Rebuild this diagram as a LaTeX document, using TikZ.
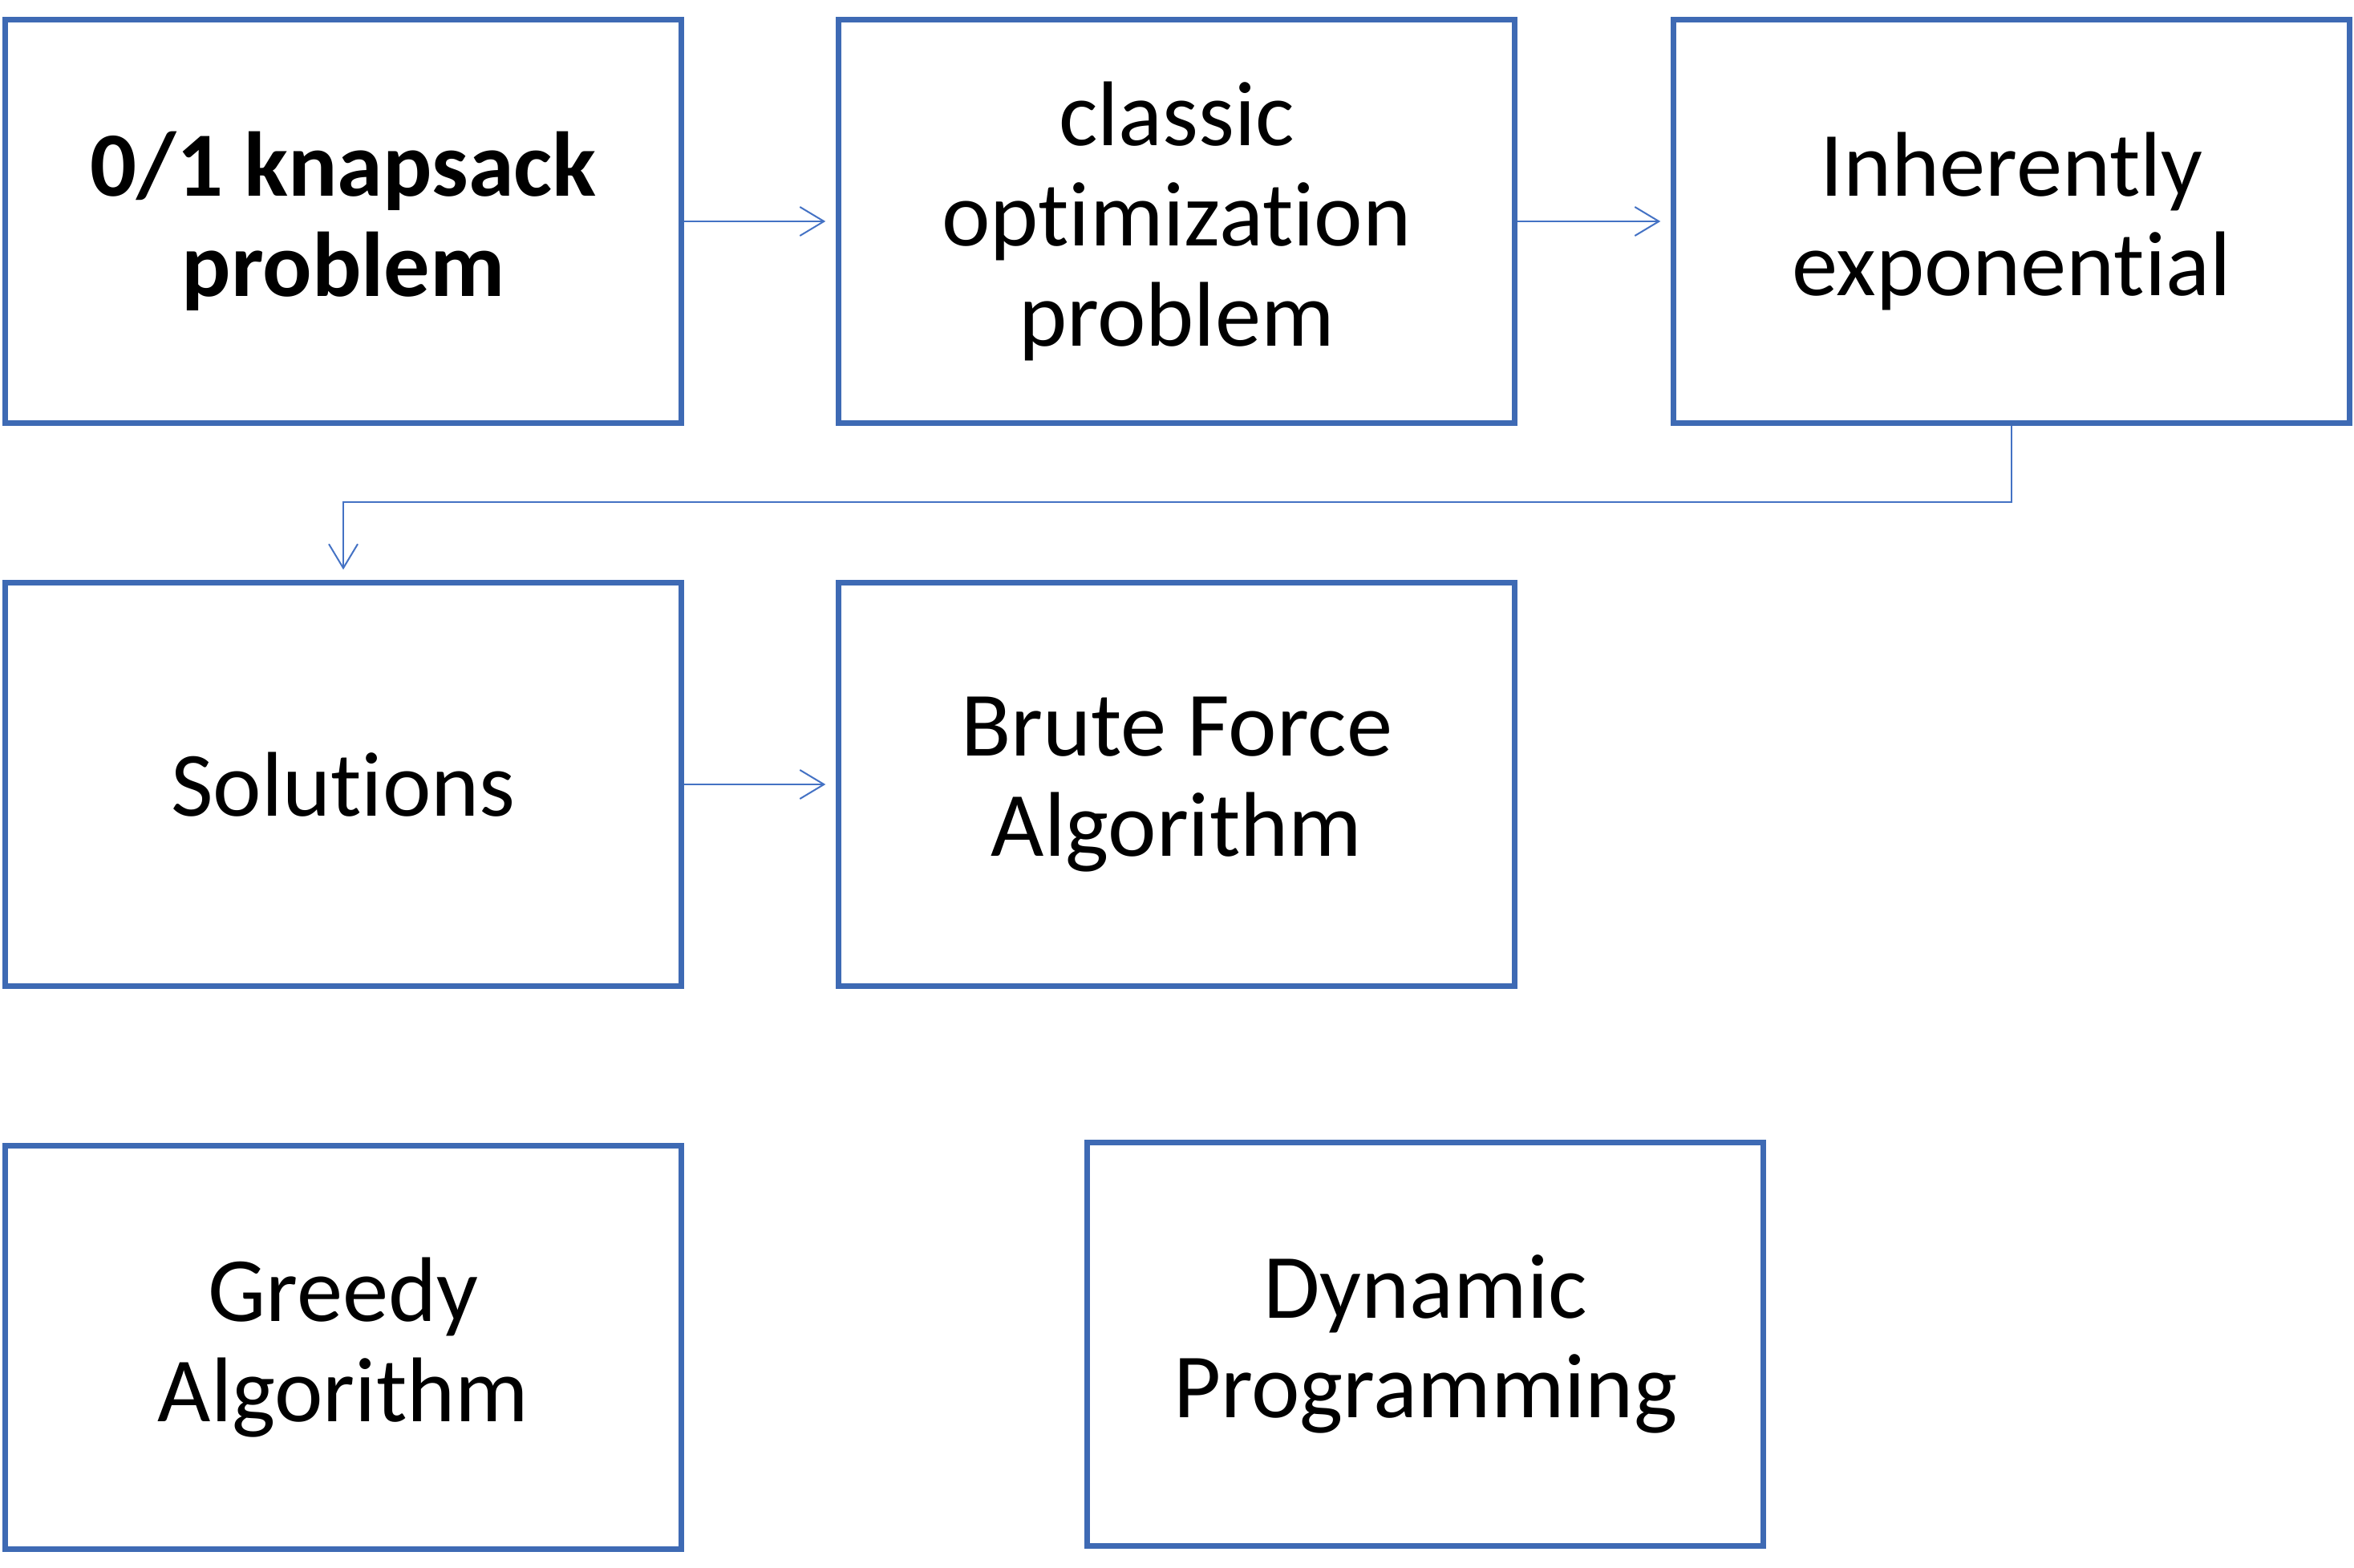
\documentclass[tikz,border=0pt]{standalone}
\usepackage{fontspec}
\setmainfont{Carlito}[Ligatures=NoCommon]
\usetikzlibrary{arrows.meta}
\definecolor{boxblue}{RGB}{62,106,180}
\definecolor{linkblue}{RGB}{68,114,196}

\begin{document}
\begin{tikzpicture}[box/.style={draw=boxblue,line width=0.065cm,minimum width=8.43cm,minimum height=5.03cm,align=center,font=\fontsize{32.6}{35.5}\selectfont},
  link/.style={draw=linkblue,line width=0.02cm,-{Straight Barb[length=0.3cm,width=0.36cm]},shorten >=0.13cm}]
\useasboundingbox (0,0) rectangle (29.35,-19.55);

    \node[box,font=\fontsize{32.6}{35.5}\selectfont\bfseries] (knap) at (4.28,-2.76) {0/1 knapsack\\problem};
    \node[box] (classic) at (14.67,-2.76) {classic\\optimization\\problem};
    \node[box] (expo) at (25.08,-2.76) {Inherently\\exponential};
    \node[box] (sol) at (4.28,-9.78) {Solutions};
    \node[box] (brute) at (14.67,-9.78) {Brute Force\\Algorithm};
    \node[box] (greedy) at (4.28,-16.80) {Greedy\\Algorithm};
    \node[box] (dyn) at (17.77,-16.76) {Dynamic\\Programming};

\draw[link] (knap) -- (classic);
\draw[link] (classic) -- (expo);
\draw[link] (expo.south) -- ++(0,-0.95) -| (sol.north);
\draw[link] (sol) -- (brute);

\end{tikzpicture}
\end{document}
